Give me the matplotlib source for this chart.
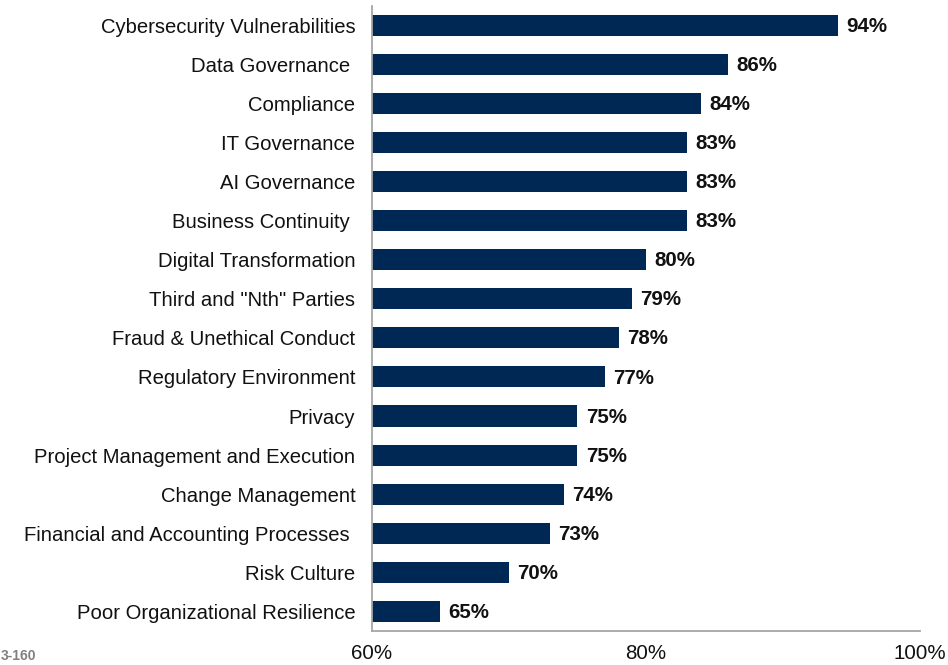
import matplotlib.pyplot as plt

# Share of respondents rating each area as a top risk
categories = [
    "Cybersecurity Vulnerabilities",
    "Data Governance ",
    "Compliance",
    "IT Governance",
    "AI Governance",
    "Business Continuity ",
    "Digital Transformation",
    'Third and "Nth" Parties',
    "Fraud & Unethical Conduct",
    "Regulatory Environment",
    "Privacy",
    "Project Management and Execution",
    "Change Management",
    "Financial and Accounting Processes ",
    "Risk Culture",
    "Poor Organizational Resilience",
]
values = [94, 86, 84, 83, 83, 83, 80, 79, 78, 77, 75, 75, 74, 73, 70, 65]
x_ticks = [60, 80, 100]

plt.rcParams["font.family"] = ["Liberation Sans", "DejaVu Sans"]

fig = plt.figure(figsize=(9.48, 6.65), dpi=100)
ax = fig.add_axes([0.3924, 0.0511, 0.578, 0.9406])

y = range(len(categories))
ax.barh(y, values, height=0.54, color="#002855")

for yi, v in zip(y, values):
    ax.text(v + 0.6, yi + 0.03, f"{v}%", va="center", ha="left",
            fontsize=14.8, fontweight="bold", color="#111111")

ax.set_xlim(60, 100)
ax.set_ylim(len(categories) - 0.5, -0.5)
ax.set_yticks(list(y))
ax.set_yticklabels(categories, fontsize=14.6, color="#111111")
ax.set_xticks(x_ticks)
ax.set_xticklabels([f"{t}%" for t in x_ticks], fontsize=14.8, color="#111111")
ax.tick_params(axis="y", length=0, pad=12)
ax.tick_params(axis="x", length=0, pad=9)

for side in ["top", "right"]:
    ax.spines[side].set_visible(False)
for side in ["left", "bottom"]:
    ax.spines[side].set_color("#a6a6a6")
    ax.spines[side].set_linewidth(1.3)

fig.text(0.001, 0.008, "3-160", fontsize=10, fontweight="bold", color="#808080")

fig.savefig("out.png", dpi=100)
